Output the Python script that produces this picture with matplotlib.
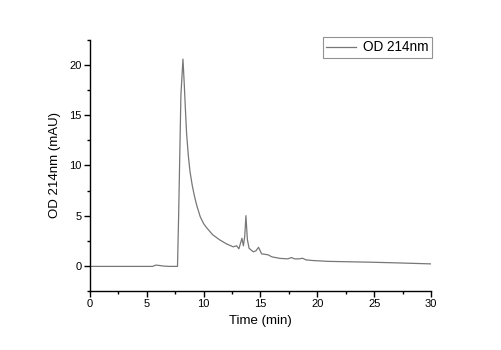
"""HPLC trace at 214 nm, single gray line, Origin-style axes."""

import matplotlib

matplotlib.use("Agg")
import matplotlib.pyplot as plt
from matplotlib.ticker import MultipleLocator

plt.rcParams["font.family"] = ["Liberation Sans", "DejaVu Sans"]

# values
time_min = [
    0.0, 5.5, 5.8, 6.1, 6.5, 7.0, 7.7, 7.8, 8.0, 8.18, 8.3, 8.4, 8.5, 8.65,
    8.8, 9.0, 9.2, 9.4, 9.7, 10.0, 10.3, 10.8, 11.4, 12.0, 12.6, 12.9, 13.1,
    13.37, 13.5, 13.62, 13.72, 13.85, 14.0, 14.37, 14.6, 14.83, 15.1, 15.4,
    15.68, 16.0, 16.7, 17.4, 17.73, 18.0, 18.4, 18.7, 19.0, 19.65, 21.0,
    24.6, 27.0, 30.0,
]
od214 = [
    -0.05, -0.05, 0.08, 0.04, -0.02, -0.05, -0.05, 5.0, 17.0, 20.6, 18.0,
    15.5, 13.2, 11.0, 9.4, 8.0, 6.9, 6.0, 4.9, 4.2, 3.75, 3.1, 2.6, 2.2,
    1.9, 2.0, 1.7, 2.75, 2.0, 3.0, 5.0, 2.6, 1.75, 1.4, 1.5, 1.85, 1.2,
    1.15, 1.1, 0.9, 0.75, 0.7, 0.83, 0.7, 0.7, 0.76, 0.6, 0.53, 0.45, 0.37,
    0.3, 0.2,
]

fig = plt.figure(figsize=(5.01, 3.5), dpi=100)
ax = fig.add_axes([0.1796, 0.1686, 0.6806, 0.7171])

ax.plot(time_min, od214, color="#777777", linewidth=0.9, label="OD 214nm")

ax.set_xlim(0, 30)
ax.set_ylim(-2.5, 22.5)
ax.xaxis.set_major_locator(MultipleLocator(5))
ax.xaxis.set_minor_locator(MultipleLocator(2.5))
ax.yaxis.set_major_locator(MultipleLocator(5))
ax.yaxis.set_minor_locator(MultipleLocator(2.5))

for side in ("top", "right"):
    ax.spines[side].set_visible(False)
for side in ("left", "bottom"):
    ax.spines[side].set_linewidth(1.0)

ax.tick_params(axis="both", which="major", direction="out", length=4, width=1,
               labelsize=8, pad=2)
ax.tick_params(axis="both", which="minor", direction="out", length=2.5, width=1)

ax.set_xlabel("Time (min)", fontsize=9.5, labelpad=4)
ax.set_ylabel("OD 214nm (mAU)", fontsize=9.5, labelpad=6)

leg = ax.legend(loc="upper right", bbox_to_anchor=(1.003, 1.012), fontsize=9.8,
                frameon=True, fancybox=False, handlelength=2.2,
                borderpad=0.25, handletextpad=0.5, borderaxespad=0)
leg.get_frame().set_edgecolor("#777777")
leg.get_frame().set_linewidth(0.8)

fig.savefig("out.png", dpi=100)
